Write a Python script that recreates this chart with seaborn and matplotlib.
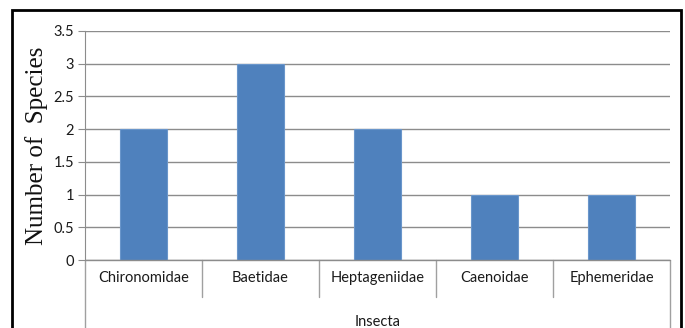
import matplotlib
matplotlib.use("Agg")
import matplotlib.pyplot as plt
import matplotlib.patches as mpatches
import seaborn as sns
import pandas as pd

families = ["Chironomidae", "Baetidae", "Heptageniidae", "Caenoidae", "Ephemeridae"]
species = [2, 3, 2, 1, 1]
group = "Insecta"

df = pd.DataFrame({"family": families, "species": species})

sns.set_style("white")
plt.rcParams["font.family"] = ["Lato", "DejaVu Sans"]

fig = plt.figure(figsize=(6.85, 3.28), dpi=100)
ax = fig.add_axes([85 / 685, 1 - 260 / 328, 585 / 685, 229 / 328])

sns.barplot(data=df, x="family", y="species", color="#4F81BD", width=0.4,
            edgecolor="#6A96CB", linewidth=0.8, saturation=1, ax=ax, zorder=3)

ax.set_ylim(0, 3.5)
ax.set_xlim(-0.5, len(families) - 0.5)
ax.set_yticks([0, 0.5, 1, 1.5, 2, 2.5, 3, 3.5])
ax.set_yticklabels(["0", "0.5", "1", "1.5", "2", "2.5", "3", "3.5"])
ax.yaxis.grid(True, color="#8C8C8C", linewidth=1, zorder=0)
ax.tick_params(axis="y", length=5, color="#8C8C8C", labelsize=10.5, pad=3,
               left=True, labelcolor="#1A1A1A")
ax.set_xticks([])
ax.set_xlabel("")
ax.set_ylabel("Number of  Species", family="Liberation Serif", fontsize=18,
              labelpad=4, color="#111111")
for s in ["top", "right", "bottom"]:
    ax.spines[s].set_visible(False)
ax.spines["left"].set_color("#8C8C8C")
ax.spines["left"].set_bounds(0, 3.5)

# multi-level category axis below the plot
px = 1 / 229 * 3.5  # one pixel in data units (vertical)
lc = "#A0A0A0"
ax.plot([-0.5, len(families) - 0.5], [0, 0], color="#8C8C8C", lw=1, clip_on=False, zorder=4)
for i in range(len(families) + 1):
    x = i - 0.5
    bottom = -80 * px if i in (0, len(families)) else -37 * px
    ax.plot([x, x], [0, bottom], color=lc, lw=1, clip_on=False)
for i, f in enumerate(families):
    ax.text(i, -18 * px, f, ha="center", va="center", fontsize=10.5, color="#1A1A1A")
ax.text((len(families) - 1) / 2, -62 * px, group, ha="center", va="center",
        fontsize=10.5, color="#1A1A1A")

# outer frame
frame = mpatches.Rectangle((12 / 685, -0.05), 669 / 685, 1.05 - 10 / 328,
                           transform=fig.transFigure, fill=False,
                           edgecolor="black", linewidth=2, clip_on=False)
fig.patches.append(frame)

fig.savefig("out.png", dpi=100)
